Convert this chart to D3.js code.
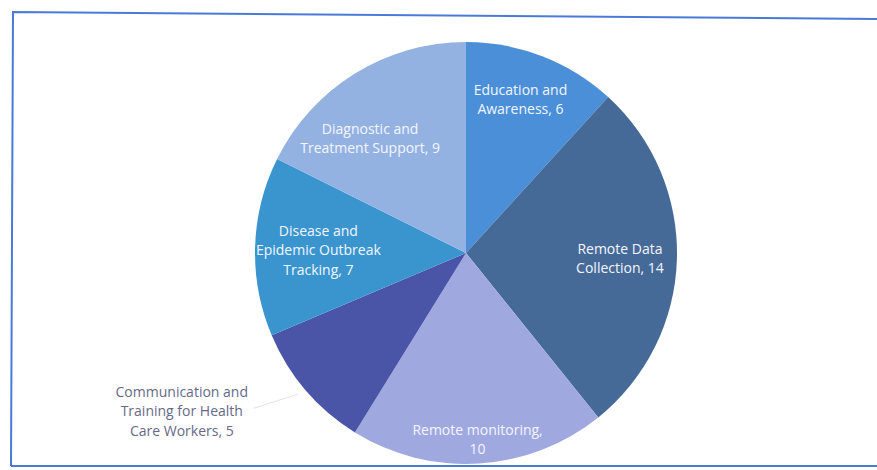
<!DOCTYPE html>
<html>
<head>
<meta charset="utf-8">
<script src="https://cdn.jsdelivr.net/npm/d3@7"></script>
<style>
  html, body { margin: 0; padding: 0; background: #fff; }
  svg { display: block; }
  text { font-family: "Open Sans", "Liberation Sans", sans-serif; }
</style>
</head>
<body>
<svg id="chart" width="877" height="470"></svg>
<script>
// ---- data ----
const categories = [
  "Education and Awareness",
  "Remote Data Collection",
  "Remote monitoring",
  "Communication and Training for Health Care Workers",
  "Disease and Epidemic Outbreak Tracking",
  "Diagnostic and Treatment Support"
];
const values = [6, 14, 10, 5, 7, 9];
const labelLines = [
  ["Education and", "Awareness, 6"],
  ["Remote Data", "Collection, 14"],
  ["Remote monitoring,", "10"],
  ["Communication and", "Training for Health", "Care Workers, 5"],
  ["Disease and", "Epidemic Outbreak", "Tracking, 7"],
  ["Diagnostic and", "Treatment Support, 9"]
];

// ---- style / layout ----
const colors = ["#4a8fd8", "#466a98", "#a0a8e0", "#4a55a8", "#3a95cf", "#93b2e2"];
const labelRadiusFactor = [0.78, 0.73, 0.89, null, 0.70, 0.71];
const labelShift = [[-5, 0], [0, 1], [0, -1], [0, 1], [0, 2], [-17, 13]];
const W = 877, H = 470;
const cx = 466, cy = 253, R = 211;
const lineH = 19.5;

const svg = d3.select("#chart");

// frame
svg.append("path")
  .attr("d", "M11,466 L13,12 L877,19")
  .attr("fill", "none").attr("stroke", "#4a7ad8").attr("stroke-width", 2);
svg.append("line")
  .attr("x1", 11).attr("y1", 466).attr("x2", 877).attr("y2", 466)
  .attr("stroke", "#4a7ad8").attr("stroke-width", 2);

const pie = d3.pie().sort(null).value(d => d)(values);
const arc = d3.arc().innerRadius(0).outerRadius(R);

const g = svg.append("g").attr("transform", `translate(${cx},${cy})`);

g.selectAll("path.slice")
  .data(pie)
  .join("path")
  .attr("class", "slice")
  .attr("d", arc)
  .attr("fill", (d, i) => colors[i]);

// labels
pie.forEach((d, i) => {
  const mid = (d.startAngle + d.endAngle) / 2;
  let x, y, fill;
  if (labelRadiusFactor[i] !== null) {
    const r = R * labelRadiusFactor[i];
    x = Math.sin(mid) * r;
    y = -Math.cos(mid) * r;
    fill = "#f4f6ff";
  } else {
    // outside label with faint leader line
    const ex = Math.sin(mid) * R, ey = -Math.cos(mid) * R;
    x = ex - 124; y = ey + 20;
    fill = "#666a88";
    g.append("line")
      .attr("x1", ex - 8).attr("y1", ey + 4)
      .attr("x2", x + 72).attr("y2", y - 2)
      .attr("stroke", "#e2e2ea").attr("stroke-width", 1);
  }
  x += labelShift[i][0];
  y += labelShift[i][1];
  const lines = labelLines[i];
  const t = g.append("text")
    .attr("text-anchor", "middle")
    .attr("font-size", 14)
    .attr("fill", fill);
  lines.forEach((ln, k) => {
    t.append("tspan")
      .attr("x", x)
      .attr("y", y + (k - (lines.length - 1) / 2) * lineH + 5)
      .text(ln);
  });
});
</script>
</body>
</html>
